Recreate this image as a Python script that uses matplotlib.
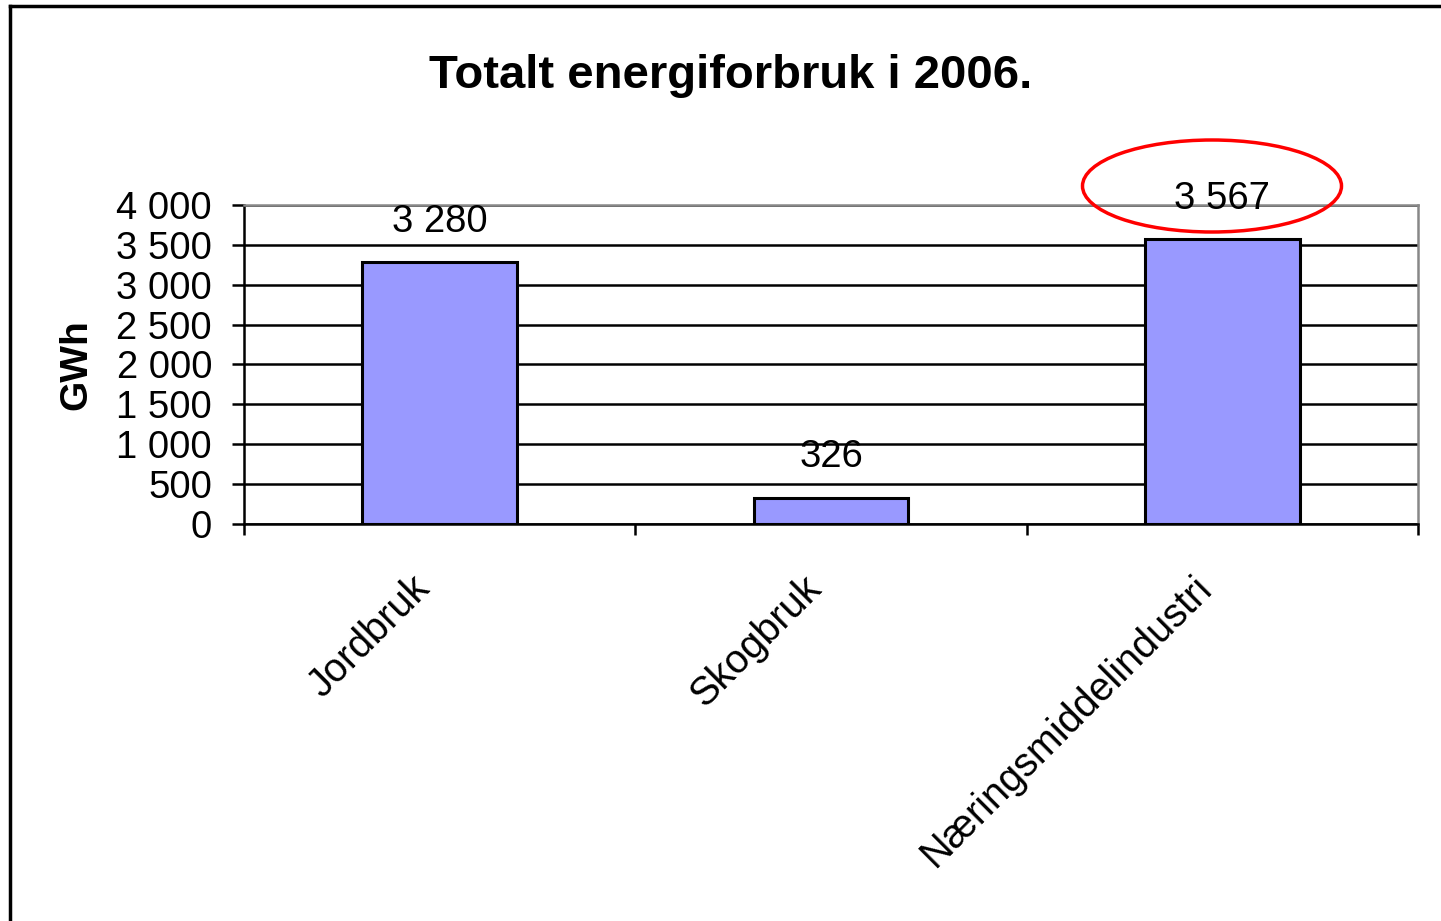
# Totalt energiforbruk i 2006 - bar chart, GWh per sector
import matplotlib
matplotlib.use('Agg')
import matplotlib.pyplot as plt
from matplotlib.lines import Line2D
from matplotlib.patches import Ellipse
from matplotlib.ticker import FuncFormatter
from matplotlib.transforms import ScaledTranslation

plt.rcParams['font.family'] = ['Liberation Sans', 'DejaVu Sans']

# Data
categories = ['Jordbruk', 'Skogbruk', 'Næringsmiddelindustri']
values = [3280, 326, 3567]
y_ticks = [0, 500, 1000, 1500, 2000, 2500, 3000, 3500, 4000]

def space_thousands(v, pos=None):
    return f'{int(v):,}'.replace(',', ' ')

fig = plt.figure(figsize=(14.41, 9.21), dpi=100)
ax = fig.add_axes([0.1693, 0.4311, 0.8147, 0.3464])

x = list(range(len(categories)))
ax.bar(x, values, width=0.395, color='#9999ff', edgecolor='black', linewidth=2.2, zorder=3)

# value labels above bars
for xi, v in zip(x, values):
    ax.annotate(space_thousands(v), (xi, v), xytext=(0, 22), textcoords='offset points',
                ha='center', va='baseline', fontsize=27.5)

ax.set_xlim(-0.5, len(categories) - 0.5)
ax.set_ylim(0, 4000)
ax.set_yticks(y_ticks)
ax.yaxis.set_major_formatter(FuncFormatter(space_thousands))
ax.set_xticks(x)
ax.set_xticklabels(categories)
ax.set_xticks([i - 0.5 for i in range(len(categories) + 1)], minor=True)

ax.grid(axis='y', color='black', linewidth=1.8)
ax.set_axisbelow(True)

ax.tick_params(axis='y', length=9, width=1.8, labelsize=27.5, pad=14)
ax.tick_params(axis='x', which='major', length=0, labelsize=28.5, pad=42)
ax.tick_params(axis='x', which='minor', length=8, width=1.8)
shift = ScaledTranslation(-16 / 100, 0, fig.dpi_scale_trans)
for lab in ax.get_xticklabels():
    lab.set_rotation(45)
    lab.set_ha('right')
    lab.set_va('center')
    lab.set_rotation_mode('anchor')
    lab.set_transform(lab.get_transform() + shift)

for side in ['left', 'bottom']:
    ax.spines[side].set_color('black')
    ax.spines[side].set_linewidth(1.8)
for side in ['top', 'right']:
    ax.spines[side].set_color('#888888')
    ax.spines[side].set_linewidth(1.8)

ax.set_ylabel('GWh', fontsize=28, fontweight='bold', labelpad=16)
fig.text(0.507, 0.918, 'Totalt energiforbruk i 2006.', ha='center', va='center',
         fontsize=34, fontweight='bold')

# outer frame (left and top edge visible)
fig.add_artist(Line2D([0.0069, 0.0069], [0.0, 0.9935], transform=fig.transFigure,
                      color='black', linewidth=2.5))
fig.add_artist(Line2D([0.0069, 1.0], [0.9935, 0.9935], transform=fig.transFigure,
                      color='black', linewidth=2.5))

# red ellipse highlight around the largest value
fig.add_artist(Ellipse((1212 / 1441, 1 - 186 / 921), 259 / 1441, 92 / 921,
                       transform=fig.transFigure, fill=False, edgecolor='red', linewidth=2.5))

fig.savefig('out.png', dpi=100)
